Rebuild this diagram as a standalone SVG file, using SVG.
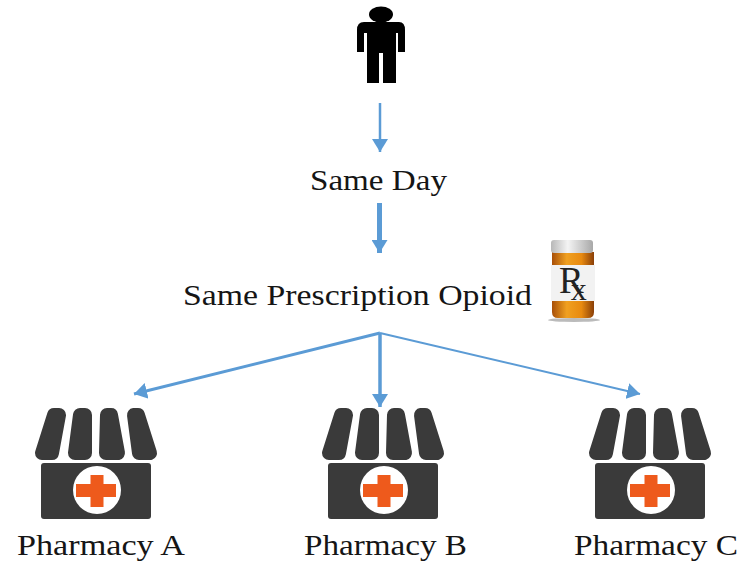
<svg xmlns="http://www.w3.org/2000/svg" width="741" height="561" viewBox="0 0 741 561">
<style>
.t{font-family:"Liberation Serif","Times New Roman",serif;font-size:29px;fill:#151515}
.c{stroke:#5b9bd5;fill:none}
.s{fill:#3a3a3a}
.l{fill:#3a3a3a;stroke:#3a3a3a;stroke-width:14;stroke-linejoin:round}
</style>
<defs>
<marker id="a" markerUnits="userSpaceOnUse" markerWidth="15" markerHeight="16" refX="13" refY="8" orient="auto"><path d="M0 0L13 8L0 16Z" fill="#5b9bd5"/></marker>
<linearGradient id="o" x1="0" x2="1" y1="0" y2="0"><stop offset="0" stop-color="#a84f08"/><stop offset=".35" stop-color="#f0a020"/><stop offset=".7" stop-color="#e88a10"/><stop offset="1" stop-color="#8a3f08"/></linearGradient>
<linearGradient id="w" x1="0" x2="1" y1="0" y2="0"><stop offset="0" stop-color="#b8b8b8"/><stop offset=".4" stop-color="#f4f4f4"/><stop offset="1" stop-color="#a8a8a8"/></linearGradient>
<g id="store">
<path class="l" d="M54 415H59L52 453H42Z"/>
<path class="l" d="M80 415H85L85 453H75Z"/>
<path class="l" d="M107 415H111L118 453H106Z"/>
<path class="l" d="M134 415H138L150 453H139Z"/>
<rect class="s" x="41" y="463" width="110" height="56" rx="3"/>
<circle cx="97" cy="490" r="24" fill="#fff"/>
<path fill="#ee5a1c" d="M90.500 475H103.500V484H116V497H103.500V507H90.500V497H76V484H90.500Z"/>
</g>
</defs>
<g id="person">
<ellipse cx="381" cy="14.500" rx="12" ry="8" fill="#000"/>
<path fill="#000" d="M364 22H399Q405 22 405 30V52H398V33H396V83H383V53H379V83H367V33H364V52H357V30Q357 22 364 22Z"/>
</g>
<g id="connectors">
<path class="c" stroke-width="2.500" d="M380 103V152" marker-end="url(#a)"/>
<path class="c" stroke-width="5" d="M379.500 203V253" marker-end="url(#a)"/>
<path class="c" stroke-width="3" d="M380 333L134 394" marker-end="url(#a)"/>
<path class="c" stroke-width="3.500" d="M380 333V407" marker-end="url(#a)"/>
<path class="c" stroke-width="2" d="M380 333L640 394" marker-end="url(#a)"/>
</g>
<g id="same-day"><text class="t" x="310" y="190" textLength="137" lengthAdjust="spacingAndGlyphs">Same Day</text></g>
<g id="same-opioid"><text class="t" x="183" y="305" textLength="349" lengthAdjust="spacingAndGlyphs">Same Prescription Opioid</text></g>
<g id="rx">
<path fill="url(#o)" d="M552 252H594V312Q594 318 588 318H558Q552 318 552 312Z"/>
<ellipse cx="574" cy="320" rx="26" ry="2" fill="#555" opacity=".4"/>
<rect x="551" y="240" width="42" height="13" rx="3" fill="url(#w)"/>
<rect x="551" y="265" width="44" height="36" fill="#f2f2f2"/>
<text x="559" y="293" font-family="Liberation Serif,serif" font-size="37" fill="#222">R<tspan dx="-13" dy="7" font-size="32">x</tspan></text>
</g>
<g id="pharmacy-a"><use href="#store"/><text class="t" x="17" y="555" textLength="168" lengthAdjust="spacingAndGlyphs">Pharmacy A</text></g>
<g id="pharmacy-b"><use href="#store" x="287"/><text class="t" x="304" y="555" textLength="163" lengthAdjust="spacingAndGlyphs">Pharmacy B</text></g>
<g id="pharmacy-c"><use href="#store" x="554"/><text class="t" x="574" y="555" textLength="164" lengthAdjust="spacingAndGlyphs">Pharmacy C</text></g>
</svg>
